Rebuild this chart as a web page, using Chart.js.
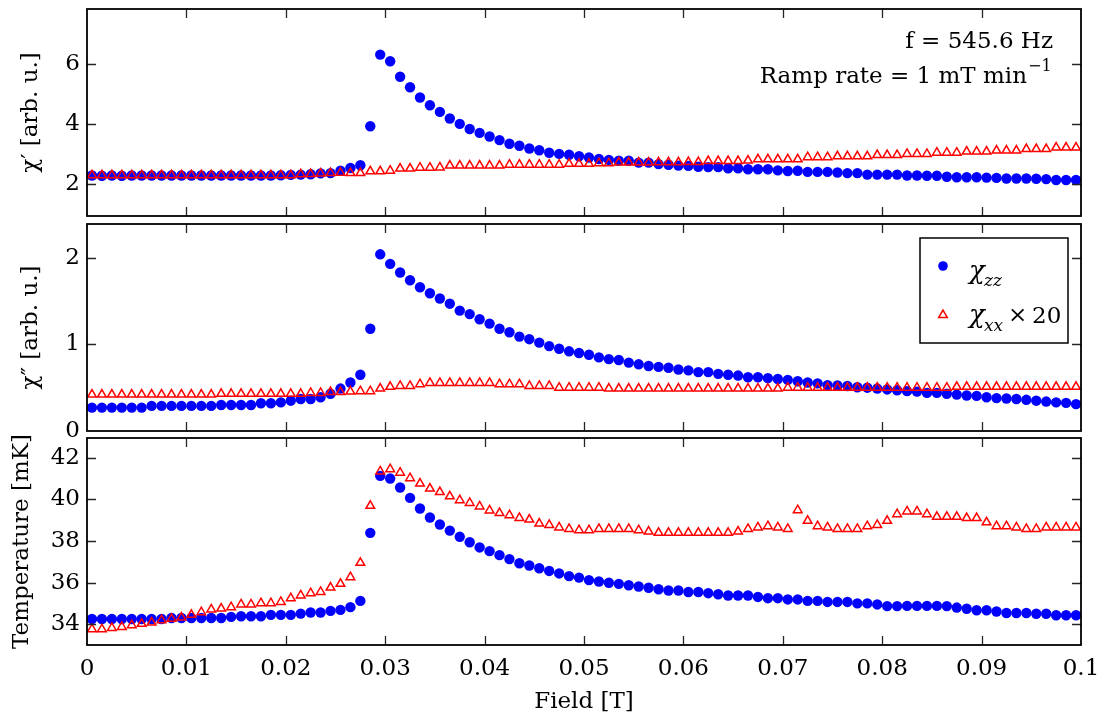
<!DOCTYPE html>
<html>
<head>
<meta charset="utf-8">
<script src="https://cdn.jsdelivr.net/npm/chart.js@4"></script>
<style>
  body { margin: 0; background: #fff; }
  #wrap { position: relative; width: 1110px; height: 718px; }
  #wrap canvas { position: absolute; left: 0; top: 0; }
</style>
</head>
<body>
<div id="wrap">
  <canvas id="chiReal" width="1110" height="718"></canvas>
  <canvas id="chiImag" width="1110" height="718"></canvas>
  <canvas id="temp" width="1110" height="718"></canvas>
</div>
<script>
// field sweep [T]
const field = [
  0.0005, 0.0015, 0.0025, 0.0035, 0.0045, 0.0055, 0.0065, 0.0075, 0.0085, 0.0095,
  0.0105, 0.0115, 0.0125, 0.0135, 0.0145, 0.0155, 0.0165, 0.0175, 0.0185, 0.0195,
  0.0205, 0.0215, 0.0225, 0.0235, 0.0245, 0.0255, 0.0265, 0.0275, 0.0285, 0.0295,
  0.0305, 0.0315, 0.0325, 0.0335, 0.0345, 0.0355, 0.0365, 0.0375, 0.0385, 0.0395,
  0.0405, 0.0415, 0.0425, 0.0435, 0.0445, 0.0455, 0.0465, 0.0475, 0.0485, 0.0495,
  0.0505, 0.0515, 0.0525, 0.0535, 0.0545, 0.0555, 0.0565, 0.0575, 0.0585, 0.0595,
  0.0605, 0.0615, 0.0625, 0.0635, 0.0645, 0.0655, 0.0665, 0.0675, 0.0685, 0.0695,
  0.0705, 0.0715, 0.0725, 0.0735, 0.0745, 0.0755, 0.0765, 0.0775, 0.0785, 0.0795,
  0.0805, 0.0815, 0.0825, 0.0835, 0.0845, 0.0855, 0.0865, 0.0875, 0.0885, 0.0895,
  0.0905, 0.0915, 0.0925, 0.0935, 0.0945, 0.0955, 0.0965, 0.0975, 0.0985, 0.0995
];

// chi' (arb. u.)
const chiZzReal = [
  2.28, 2.27, 2.28, 2.27, 2.28, 2.28, 2.28, 2.28, 2.28, 2.28,
  2.28, 2.28, 2.28, 2.28, 2.28, 2.28, 2.28, 2.28, 2.28, 2.29,
  2.30, 2.31, 2.32, 2.35, 2.36, 2.44, 2.53, 2.62, 3.92, 6.31,
  6.09, 5.57, 5.22, 4.88, 4.62, 4.40, 4.18, 4.00, 3.83, 3.70,
  3.58, 3.46, 3.34, 3.27, 3.18, 3.12, 3.04, 3.00, 2.97, 2.92,
  2.88, 2.83, 2.80, 2.77, 2.77, 2.71, 2.71, 2.66, 2.64, 2.61,
  2.60, 2.57, 2.56, 2.56, 2.52, 2.52, 2.49, 2.49, 2.49, 2.45,
  2.43, 2.44, 2.40, 2.40, 2.40, 2.38, 2.36, 2.36, 2.31, 2.31,
  2.31, 2.31, 2.28, 2.28, 2.27, 2.27, 2.24, 2.22, 2.22, 2.22,
  2.21, 2.20, 2.18, 2.18, 2.18, 2.17, 2.16, 2.13, 2.13, 2.13
];
const chiXxReal = [
  2.29, 2.29, 2.29, 2.29, 2.29, 2.29, 2.29, 2.29, 2.29, 2.29,
  2.29, 2.29, 2.29, 2.29, 2.29, 2.29, 2.29, 2.29, 2.29, 2.29,
  2.29, 2.32, 2.33, 2.35, 2.36, 2.37, 2.36, 2.36, 2.42, 2.42,
  2.44, 2.51, 2.51, 2.54, 2.54, 2.55, 2.61, 2.61, 2.61, 2.61,
  2.61, 2.61, 2.64, 2.64, 2.64, 2.64, 2.64, 2.64, 2.67, 2.67,
  2.67, 2.69, 2.69, 2.71, 2.71, 2.71, 2.71, 2.72, 2.72, 2.72,
  2.73, 2.73, 2.76, 2.76, 2.76, 2.76, 2.78, 2.82, 2.82, 2.82,
  2.82, 2.82, 2.89, 2.89, 2.89, 2.92, 2.92, 2.92, 2.92, 2.96,
  2.96, 2.96, 3.00, 3.00, 3.00, 3.04, 3.04, 3.04, 3.08, 3.08,
  3.08, 3.11, 3.11, 3.11, 3.16, 3.16, 3.16, 3.21, 3.21, 3.21
];

// chi'' (arb. u.)
const chiZzImag = [
  0.27, 0.27, 0.27, 0.27, 0.27, 0.27, 0.29, 0.29, 0.29, 0.29,
  0.29, 0.29, 0.29, 0.30, 0.30, 0.30, 0.30, 0.32, 0.32, 0.33,
  0.35, 0.37, 0.37, 0.39, 0.43, 0.49, 0.56, 0.65, 1.18, 2.04,
  1.93, 1.83, 1.74, 1.66, 1.59, 1.53, 1.47, 1.39, 1.35, 1.29,
  1.24, 1.18, 1.14, 1.09, 1.06, 1.02, 0.98, 0.95, 0.92, 0.90,
  0.88, 0.85, 0.83, 0.82, 0.79, 0.77, 0.75, 0.74, 0.73, 0.71,
  0.70, 0.68, 0.68, 0.66, 0.65, 0.64, 0.62, 0.62, 0.61, 0.60,
  0.59, 0.575, 0.56, 0.55, 0.53, 0.525, 0.52, 0.505, 0.50, 0.49,
  0.48, 0.47, 0.46, 0.455, 0.44, 0.44, 0.43, 0.42, 0.41, 0.405,
  0.39, 0.38, 0.375, 0.37, 0.36, 0.35, 0.34, 0.33, 0.325, 0.31
];
const chiXxImag = [
  0.42, 0.42, 0.42, 0.42, 0.42, 0.42, 0.42, 0.42, 0.42, 0.42,
  0.42, 0.42, 0.42, 0.43, 0.43, 0.43, 0.43, 0.43, 0.43, 0.43,
  0.43, 0.43, 0.44, 0.44, 0.45, 0.45, 0.455, 0.46, 0.46, 0.49,
  0.51, 0.52, 0.52, 0.54, 0.555, 0.555, 0.555, 0.555, 0.555, 0.555,
  0.555, 0.54, 0.54, 0.54, 0.52, 0.52, 0.52, 0.50, 0.50, 0.50,
  0.50, 0.50, 0.49, 0.49, 0.49, 0.49, 0.49, 0.49, 0.49, 0.49,
  0.49, 0.49, 0.49, 0.49, 0.49, 0.49, 0.49, 0.49, 0.49, 0.49,
  0.50, 0.50, 0.50, 0.50, 0.50, 0.50, 0.50, 0.50, 0.50, 0.50,
  0.50, 0.50, 0.50, 0.50, 0.50, 0.50, 0.50, 0.51, 0.51, 0.51,
  0.51, 0.51, 0.51, 0.51, 0.51, 0.51, 0.51, 0.51, 0.51, 0.51
];

// mixing chamber temperature [mK]
const tempZz = [
  34.25, 34.25, 34.25, 34.25, 34.25, 34.25, 34.25, 34.25, 34.30, 34.30,
  34.30, 34.30, 34.30, 34.30, 34.35, 34.38, 34.38, 34.38, 34.45, 34.45,
  34.45, 34.51, 34.56, 34.56, 34.64, 34.69, 34.82, 35.12, 38.39, 41.13,
  41.00, 40.57, 40.07, 39.56, 39.13, 38.79, 38.50, 38.20, 37.94, 37.69,
  37.51, 37.32, 37.13, 36.93, 36.82, 36.69, 36.56, 36.44, 36.31, 36.24,
  36.12, 36.05, 35.99, 35.94, 35.87, 35.81, 35.75, 35.68, 35.62, 35.62,
  35.55, 35.55, 35.49, 35.44, 35.38, 35.38, 35.38, 35.31, 35.25, 35.25,
  35.19, 35.19, 35.12, 35.12, 35.07, 35.07, 35.07, 35.00, 35.00, 34.95,
  34.87, 34.87, 34.88, 34.88, 34.88, 34.88, 34.87, 34.80, 34.74, 34.67,
  34.67, 34.61, 34.54, 34.54, 34.54, 34.50, 34.50, 34.43, 34.43, 34.43
];
const tempXx = [
  33.76, 33.76, 33.82, 33.87, 33.95, 34.02, 34.08, 34.19, 34.26, 34.32,
  34.45, 34.58, 34.71, 34.75, 34.82, 34.95, 34.95, 35.01, 35.01, 35.07,
  35.25, 35.38, 35.49, 35.55, 35.76, 35.94, 36.26, 36.95, 39.69, 41.34,
  41.45, 41.28, 41.02, 40.76, 40.52, 40.35, 40.15, 39.96, 39.83, 39.66,
  39.47, 39.34, 39.24, 39.11, 39.03, 38.84, 38.77, 38.65, 38.58, 38.52,
  38.52, 38.58, 38.58, 38.58, 38.58, 38.52, 38.45, 38.39, 38.39, 38.39,
  38.39, 38.39, 38.39, 38.39, 38.39, 38.45, 38.58, 38.65, 38.71, 38.65,
  38.58, 39.48, 38.97, 38.71, 38.65, 38.58, 38.58, 38.58, 38.71, 38.77,
  38.97, 39.29, 39.42, 39.42, 39.29, 39.16, 39.16, 39.16, 39.10, 39.10,
  38.90, 38.71, 38.71, 38.65, 38.58, 38.58, 38.65, 38.65, 38.65, 38.65
];

const fieldTicks = [0, 0.01, 0.02, 0.03, 0.04, 0.05, 0.06, 0.07, 0.08, 0.09, 0.1];
const realTicks = [2, 4, 6];
const imagTicks = [0, 1, 2];
const tempTicks = [34, 36, 38, 40, 42];

const serif = '"DejaVu Serif", serif';
const blue = '#0000ff';
const red = '#ff0000';

Chart.defaults.color = '#000';
Chart.defaults.font.family = serif;

function toPoints(values) {
  return values.map((v, i) => ({ x: field[i], y: v }));
}

function datasets(zz, xx) {
  return [
    {
      label: 'χxx × 20',
      data: toPoints(xx),
      pointStyle: 'triangle',
      pointRadius: 5,
      pointBorderColor: red,
      pointBackgroundColor: 'rgba(255,255,255,0)',
      pointBorderWidth: 1.5,
      order: 0
    },
    {
      label: 'χzz',
      data: toPoints(zz),
      pointStyle: 'circle',
      pointRadius: 5.2,
      pointBorderColor: blue,
      pointBackgroundColor: blue,
      pointBorderWidth: 0,
      order: 1
    }
  ];
}

function yAxis(min, max, ticks, title, titlePad) {
  return {
    type: 'linear',
    min: min,
    max: max,
    afterBuildTicks: s => { s.ticks = ticks.map(v => ({ value: v })); },
    afterFit: s => { s.width = 87; s.paddingTop = 0; s.paddingBottom = 0; },
    grid: { display: false, drawTicks: false },
    border: { display: false },
    ticks: { padding: 7, font: { size: 23 } },
    title: { display: true, text: title, font: { size: 23 }, padding: { top: titlePad } }
  };
}

function xAxis(show) {
  const axis = {
    type: 'linear',
    min: 0,
    max: 0.1,
    display: show,
    afterBuildTicks: s => { s.ticks = fieldTicks.map(v => ({ value: v })); },
    grid: { display: false, drawTicks: false },
    border: { display: false },
    ticks: { padding: 10, autoSkip: false, maxRotation: 0, font: { size: 23 }, callback: v => String(v) },
    title: { display: true, text: 'Field [T]', font: { size: 23 }, padding: { top: 0, bottom: 2 } }
  };
  if (show) {
    axis.afterFit = s => { s.height = 73; s.paddingLeft = 0; s.paddingRight = 0; };
  }
  return axis;
}

// matlab-style box with ticks pointing into the plot on all four sides
const boxTicks = {
  id: 'boxTicks',
  afterDatasetsDraw(chart) {
    const { ctx, chartArea: a } = chart;
    const xs = chart.scales.x;
    const ys = chart.scales.y;
    const len = 9;
    ctx.save();
    ctx.strokeStyle = '#262626';
    ctx.lineWidth = 1.3;
    ctx.beginPath();
    fieldTicks.forEach(v => {
      const px = Math.round(xs.getPixelForValue(v)) + 0.5;
      if (px <= a.left + 2 || px >= a.right - 2) return;
      ctx.moveTo(px, a.bottom); ctx.lineTo(px, a.bottom - len);
      ctx.moveTo(px, a.top); ctx.lineTo(px, a.top + len);
    });
    ys.ticks.forEach(t => {
      const py = Math.round(ys.getPixelForValue(t.value)) + 0.5;
      if (py <= a.top + 2 || py >= a.bottom - 2) return;
      ctx.moveTo(a.left, py); ctx.lineTo(a.left + len, py);
      ctx.moveTo(a.right, py); ctx.lineTo(a.right - len, py);
    });
    ctx.stroke();
    ctx.strokeStyle = '#000';
    ctx.lineWidth = 1.8;
    ctx.strokeRect(a.left, a.top, a.right - a.left, a.bottom - a.top);
    ctx.restore();
  }
};

// measurement conditions, top right of the chi' panel
const runInfo = {
  id: 'runInfo',
  afterDraw(chart) {
    const { ctx, chartArea: a } = chart;
    ctx.save();
    ctx.fillStyle = '#000';
    ctx.textBaseline = 'alphabetic';
    ctx.font = '23px ' + serif;
    ctx.textAlign = 'right';
    ctx.fillText('f = 545.6 Hz', a.right - 28, a.top + 39);
    ctx.fillText('Ramp rate = 1 mT min', a.right - 54, a.top + 74);
    ctx.textAlign = 'left';
    ctx.font = '16px ' + serif;
    ctx.fillText('−1', a.right - 53, a.top + 62);
    ctx.restore();
  }
};

// legend with subscripts, drawn by hand since the built-in one can't do them
const legendBox = {
  id: 'legendBox',
  afterDraw(chart) {
    const { ctx, chartArea: a } = chart;
    const x0 = a.right - 161;
    const y0 = a.top + 14;
    ctx.save();
    ctx.fillStyle = '#fff';
    ctx.fillRect(x0, y0, 148, 105);
    ctx.strokeStyle = '#000';
    ctx.lineWidth = 1.5;
    ctx.strokeRect(x0, y0, 148, 105);

    ctx.fillStyle = blue;
    ctx.strokeStyle = blue;
    Chart.helpers.drawPoint(ctx, { pointStyle: 'circle', radius: 4.8, borderWidth: 0, rotation: 0 }, x0 + 23, y0 + 28);
    ctx.fillStyle = 'rgba(255,255,255,0)';
    ctx.strokeStyle = red;
    ctx.lineWidth = 1.5;
    Chart.helpers.drawPoint(ctx, { pointStyle: 'triangle', radius: 5, borderWidth: 1.5, rotation: 0 }, x0 + 23, y0 + 77);

    ctx.fillStyle = '#000';
    ctx.textAlign = 'left';
    ctx.textBaseline = 'alphabetic';
    ctx.font = 'italic 26px ' + serif;
    ctx.fillText('χ', x0 + 49, y0 + 41);
    ctx.fillText('χ', x0 + 49, y0 + 85);
    ctx.font = 'italic 17px ' + serif;
    ctx.fillText('zz', x0 + 64, y0 + 48);
    ctx.fillText('xx', x0 + 64, y0 + 93);
    ctx.font = '23px ' + serif;
    ctx.fillText('×', x0 + 88, y0 + 84);
    ctx.fillText('20', x0 + 112, y0 + 85);
    ctx.restore();
  }
};

function baseOptions(top, bottom, xShow, y) {
  return {
    responsive: false,
    animation: false,
    events: [],
    layout: { padding: { left: 0, right: 29, top: top, bottom: bottom }, autoPadding: false },
    plugins: { legend: { display: false }, tooltip: { enabled: false } },
    scales: { x: xAxis(xShow), y: y }
  };
}

new Chart(document.getElementById('chiReal'), {
  type: 'scatter',
  data: { datasets: datasets(chiZzReal, chiXxReal) },
  options: baseOptions(9, 502, false, yAxis(0.93, 7.83, realTicks, 'χ′ [arb. u.]', 17)),
  plugins: [boxTicks, runInfo]
});

new Chart(document.getElementById('chiImag'), {
  type: 'scatter',
  data: { datasets: datasets(chiZzImag, chiXxImag) },
  options: baseOptions(224, 287, false, yAxis(0, 2.39, imagTicks, 'χ″ [arb. u.]', 17)),
  plugins: [boxTicks, legendBox]
});

new Chart(document.getElementById('temp'), {
  type: 'scatter',
  data: { datasets: datasets(tempZz, tempXx) },
  options: baseOptions(438, 0, true, yAxis(33, 42.95, tempTicks, 'Temperature [mK]', 8)),
  plugins: [boxTicks]
});
</script>
</body>
</html>
